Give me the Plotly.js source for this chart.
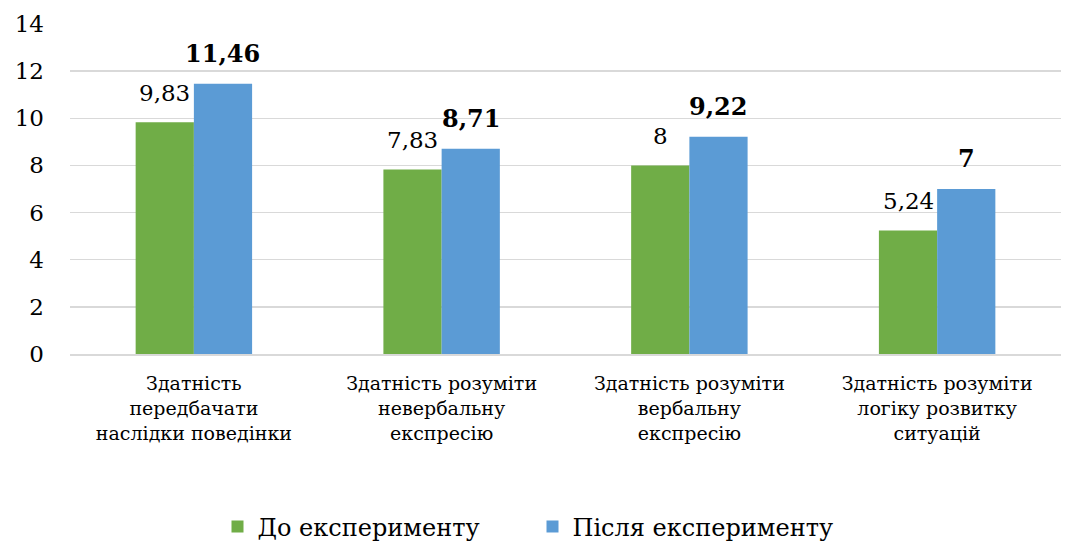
<!DOCTYPE html>
<html>
<head>
<meta charset="utf-8">
<script src="https://cdn.plot.ly/plotly-3.0.1.min.js"></script>
<style>html,body{margin:0;padding:0;background:#fff;}#chart{width:1065px;height:546px;}</style>
</head>
<body>
<div id="chart"></div>
<script>
const categories = [
  "Здатність<br>передбачати<br>наслідки поведінки",
  "Здатність розуміти<br>невербальну<br>експресію",
  "Здатність розуміти<br>вербальну<br>експресію",
  "Здатність розуміти<br>логіку розвитку<br>ситуацій"
];
const seriesNames = ["До експерименту", "Після експерименту"];
const before = [9.83, 7.83, 8, 5.24];
const after = [11.46, 8.71, 9.22, 7];
const yTicks = [0, 2, 4, 6, 8, 10, 12, 14];

const fmt = v => String(v).replace('.', ',');
const font = 'DejaVu Serif';
const bargap = 0.53;
const off = (1 - bargap) / 4;

const traces = [
  {type: 'bar', name: seriesNames[0], x: categories, y: before, marker: {color: '#70AD47'}},
  {type: 'bar', name: seriesNames[1], x: categories, y: after, marker: {color: '#5B9BD5'}}
];

const annotations = [];
before.forEach((v, i) => annotations.push({
  x: i - off, y: v, xref: 'x', yref: 'y', text: fmt(v), showarrow: false,
  yanchor: 'bottom', xanchor: 'center', yshift: 14,
  font: {family: font, size: 23, color: '#000'}
}));
after.forEach((v, i) => annotations.push({
  x: i + off, y: v, xref: 'x', yref: 'y', text: '<b>' + fmt(v) + '</b>', showarrow: false,
  yanchor: 'bottom', xanchor: 'center', yshift: 14,
  font: {family: font, size: 24, color: '#000'}
}));

const layout = {
  width: 1065, height: 546,
  margin: {l: 70, r: 4, t: 24, b: 192},
  paper_bgcolor: '#fff', plot_bgcolor: '#fff',
  barmode: 'group', bargap: bargap, bargroupgap: 0,
  font: {family: font, size: 20, color: '#000'},
  xaxis: {
    showgrid: false, showline: true, linecolor: '#D9D9D9', linewidth: 1.5,
    tickfont: {family: font, size: 19, color: '#000'}, ticks: '', ticklabelstandoff: 12, automargin: false
  },
  yaxis: {
    range: [0, 14], tickvals: yTicks, ticktext: yTicks.map(String),
    showgrid: true, gridcolor: '#D9D9D9', gridwidth: 1.5, zeroline: false,
    tickfont: {family: font, size: 23, color: '#000'}, ticks: '', ticklabelstandoff: 25, automargin: false
  },
  annotations: annotations,
  showlegend: true,
  legend: {
    orientation: 'h', x: 0.5, xanchor: 'center', xref: 'container',
    y: 0.035, yanchor: 'middle', yref: 'container',
    font: {family: font, size: 24, color: '#000'}, itemwidth: 30,
    entrywidth: 270, entrywidthmode: 'pixels'
  }
};

Plotly.newPlot('chart', traces, layout, {displayModeBar: false, staticPlot: true});
</script>
</body>
</html>
